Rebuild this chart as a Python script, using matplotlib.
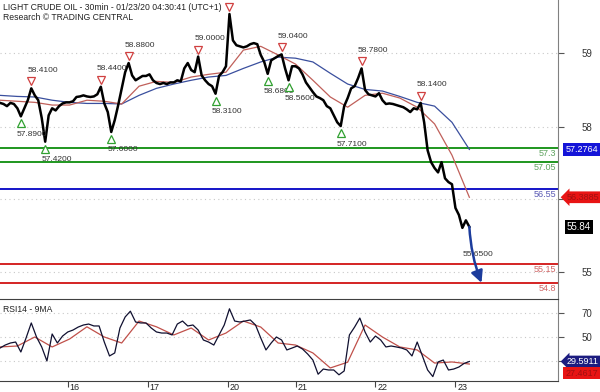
import numpy as np
import matplotlib
matplotlib.use("Agg")
import matplotlib.pyplot as plt
from matplotlib.transforms import offset_copy, blended_transform_factory

# closes, one value every 2 bars (30min bars)
price_step = 2
price_close = [
    # 15th
    58.14, 58.12, 58.08, 58.14, 58.12, 58.04, 57.89, 58.04, 58.19, 58.41,
    58.28, 58.19, 57.86, 57.42, 57.91, 58.04, 58.00, 58.08, 58.13, 58.15,
    # 16th
    58.15, 58.17, 58.25, 58.26, 58.28, 58.26, 58.25, 58.26, 58.30, 58.44,
    58.13, 57.97, 57.60, 57.82, 58.10, 58.41, 58.71, 58.88, 58.65, 58.56,
    58.60, 58.64, 58.64,
    # 17th
    58.67, 58.56, 58.51, 58.49, 58.51, 58.49, 58.52, 58.52, 58.56, 58.54,
    58.78, 58.88, 58.75, 58.71, 59.00, 58.65, 58.56, 58.49, 58.45, 58.31,
    58.64, 58.71, 58.82,
    # 20th
    59.79, 59.30, 59.21, 59.19, 59.17, 59.19, 59.23, 59.25, 59.23, 59.03,
    58.90, 58.68, 58.93, 58.97, 59.01, 59.04, 58.78, 58.56, 58.82,
    # 21st
    58.82, 58.78, 58.67, 58.52, 58.43, 58.34, 58.26, 58.23, 58.19, 58.08,
    58.04, 57.91, 57.78, 57.71, 58.08, 58.23, 58.41, 58.45, 58.60, 58.78,
    58.38, 58.30, 58.28,
    # 22nd
    58.26, 58.32, 58.19, 58.12, 58.13, 58.12, 58.10, 58.08, 58.06, 58.02,
    57.97, 58.04, 58.02, 58.14, 57.78, 57.26, 57.04, 56.93, 56.85, 57.04,
    56.74, 56.67, 56.63,
    # 23rd
    56.19, 56.06, 55.82, 55.96, 55.84,
]

# moving averages, one value every 10 bars
ma_step = 10
ma_fast = [58.19, 58.17, 58.15, 58.10, 58.10, 58.19, 58.17, 58.12, 58.45, 58.54,
           58.52, 58.62, 58.67, 58.71, 59.12, 59.19, 59.03, 58.86, 58.56, 58.25,
           58.06, 58.28, 58.32, 58.23, 58.06, 57.75, 57.17, 56.3885]
ma_slow = [58.28, 58.26, 58.25, 58.19, 58.15, 58.13, 58.13, 58.12, 58.28, 58.41,
           58.49, 58.56, 58.62, 58.65, 58.78, 58.90, 58.99, 58.97, 58.90, 58.69,
           58.49, 58.39, 58.36, 58.26, 58.15, 58.08, 57.78, 57.2764]

# RSI14, one value every 3 bars
rsi_step = 3
rsi_values = [
    40.8, 43.3, 45.0, 45.8, 37.5, 49.2, 61.7, 50.0, 41.7, 30.0,
    52.5, 45.0, 50.8, 54.2, 55.8, 58.3, 60.0, 60.8, 59.2, 59.2,
    45.8, 34.2, 36.7, 57.5, 66.7, 71.5, 62.5, 61.7, 61.7, 57.5,
    54.2, 53.3, 53.3, 51.7, 60.8, 63.3, 59.2, 60.0, 55.8, 47.5,
    45.8, 43.3, 51.7, 60.0, 73.5, 63.3, 62.5, 63.3, 64.2, 60.0,
    49.2, 39.2, 45.0, 50.0, 47.5, 39.2, 40.8, 42.5, 40.0, 35.8,
    30.8, 19.0, 23.3, 22.5, 22.5, 18.5, 21.7, 51.7, 58.3, 65.8,
    54.2, 45.8, 50.8, 47.5, 41.7, 42.5, 41.7, 40.8, 39.2, 34.2,
    45.8, 34.2, 22.5, 17.0, 29.2, 30.8, 22.5, 23.3, 25.0, 28.0,
    29.5911,
]
# 9MA of RSI, one value every 10 bars
rsi_ma = [41.7, 42.5, 50.0, 41.7, 48.3, 58.5, 50.0, 45.0, 63.3, 58.5,
          51.7, 57.5, 47.5, 53.3, 63.3, 58.3, 45.0, 43.3, 36.7, 24.2,
          29.0, 60.0, 50.0, 41.7, 39.2, 28.3, 29.2, 27.4617]

day_ticks = [39, 85, 131, 170, 216, 262]
day_labels = ["16", "17", "20", "21", "22", "23"]

peak_bars = [18, 58, 74, 114, 132, 162, 208, 242]
peak_prices = [58.41, 58.44, 58.88, 59.00, 59.79, 59.04, 58.78, 58.14]
peak_labels = ["58.4100", "58.4400", "58.8800", "59.0000", "", "59.0400", "58.7800", "58.1400"]
trough_bars = [12, 26, 64, 124, 154, 166, 196]
trough_prices = [57.89, 57.42, 57.60, 58.31, 58.68, 58.56, 57.71]
trough_labels = ["57.8900", "57.4200", "57.6000", "58.3100", "58.6800", "58.5600", "57.7100"]

level_prices = [57.3, 57.05, 56.55, 55.15, 54.8]
level_names = ["57.3", "57.05", "56.55", "55.15", "54.8"]
level_colors = ["#1e961e", "#1e961e", "#1414c8", "#d42424", "#d42424"]
level_text_colors = ["#5fa35f", "#5fa35f", "#5a5ab4", "#d06666", "#d06666"]

# price grid is evenly spaced in pixels, labels are rounded
price_grid = [59.06, 57.69, 56.35, 55.0]
price_grid_labels = ["59", "58", "", "55"]
rsi_grid = [70, 50, 30]
rsi_grid_labels = ["70", "50", ""]

target_bar = 277
target_price = 54.8
target_text = "55.6500"

plt.rcParams["font.family"] = ["Liberation Sans", "DejaVu Sans"]

W, H = 600, 392
fig = plt.figure(figsize=(W / 100, H / 100), dpi=100)
ax = fig.add_axes([0, 93 / H, 558 / W, 299 / H])
ax_rsi = fig.add_axes([0, 11 / H, 558 / W, 82 / H], sharex=ax)

grid_kw = dict(color="#c8c8c8", linestyle=(0, (1, 3)), linewidth=0.8, zorder=0)

# ---- main price panel ----
px = np.arange(len(price_close)) * price_step
mx = np.arange(len(ma_fast)) * ma_step
ax.set_xlim(0, 321)
ax.set_ylim(54.50, 60.05)
for g in price_grid:
    ax.axhline(g, **grid_kw)

ax.plot(mx, ma_slow, color="#3a4f9e", lw=0.9, zorder=3)
ax.plot(mx, ma_fast, color="#c0605a", lw=0.9, zorder=3)
ax.plot(px, price_close, color="black", lw=1.8, zorder=4)

ylab = blended_transform_factory(ax.transAxes, ax.transData)
for lvl, name, c, tc in zip(level_prices, level_names, level_colors, level_text_colors):
    ax.axhline(lvl, color=c, lw=1.4, zorder=2)
    ax.text(0.997, lvl, name, transform=offset_copy(ylab, fig=fig, y=-1, units="dots"),
            ha="right", va="top", fontsize=6.5, color=tc, zorder=5)

# swing high / low markers
for b, p, lab in zip(peak_bars, peak_prices, peak_labels):
    ax.plot(b, p, marker="v", ms=6, mfc="white", mec="#d04040", mew=0.9,
            transform=offset_copy(ax.transData, fig=fig, y=7, units="dots"), zorder=6)
    if lab:
        ax.text(b, p, lab, transform=offset_copy(ax.transData, fig=fig, x=-4, y=18, units="dots"),
                ha="left", va="center", fontsize=6, color="#333333", zorder=6)
for b, p, lab in zip(trough_bars, trough_prices, trough_labels):
    ax.plot(b, p, marker="^", ms=6, mfc="white", mec="#30a030", mew=0.9,
            transform=offset_copy(ax.transData, fig=fig, y=-7, units="dots"), zorder=6)
    ax.text(b, p, lab, transform=offset_copy(ax.transData, fig=fig, x=-4, y=-18, units="dots"),
            ha="left", va="center", fontsize=6, color="#333333", zorder=6)

# projection arrow
ax.annotate("", xy=(target_bar, target_price), xytext=(px[-1], price_close[-1]),
            arrowprops=dict(arrowstyle="-|>,head_length=0.7,head_width=0.35", color="#1c3c9c",
                            lw=1.8, connectionstyle="arc3,rad=0.08", shrinkA=0, shrinkB=0),
            zorder=7)
ax.text(px[-1] - 4, 55.33, target_text, fontsize=6, color="#333333", ha="left", va="center")

ax.set_yticks(price_grid)
ax.set_yticklabels(price_grid_labels)
ax.yaxis.tick_right()
ax.tick_params(axis="y", direction="out", length=4, pad=13, labelsize=7, colors="#555555",
               labelcolor="#333333")
ax.tick_params(axis="x", bottom=False, labelbottom=False)
for s in ["top", "left", "bottom"]:
    ax.spines[s].set_visible(False)
ax.spines["right"].set_color("#808080")

# value boxes on the price axis
box_fs = 6.5
ax.text(1.013, ma_slow[-1], "57.2764", transform=ylab, ha="left", va="center", fontsize=box_fs,
        color="white", bbox=dict(boxstyle="square,pad=0.2", fc="#1414d8", ec="none"), clip_on=False)
ax.text(1.016, ma_fast[-1], "56.3885", transform=ylab, ha="left", va="center", fontsize=box_fs,
        color="#a01010", bbox=dict(boxstyle="larrow,pad=0.15", fc="#e81414", ec="none"), clip_on=False)
ax.text(1.016, price_close[-1], "55.84", transform=ylab, ha="left", va="center", fontsize=box_fs + 0.5,
        color="white", bbox=dict(boxstyle="square,pad=0.22", fc="black", ec="none"), clip_on=False)

fig.text(3 / W, 1 - 7 / H, "LIGHT CRUDE OIL - 30min - 01/23/20 04:30:41 (UTC+1)",
         fontsize=6.2, color="#222222", va="center", ha="left")
fig.text(3 / W, 1 - 17 / H, "Research \u00a9 TRADING CENTRAL",
         fontsize=6.2, color="#222222", va="center", ha="left")

# ---- RSI panel ----
rx = np.arange(len(rsi_values)) * rsi_step
ax_rsi.set_ylim(13.33, 81.67)
for g in rsi_grid:
    ax_rsi.axhline(g, **grid_kw)
ax_rsi.plot(mx, rsi_ma, color="#c0504a", lw=0.9, zorder=3)
ax_rsi.plot(rx, rsi_values, color="#101030", lw=0.9, zorder=4)
ax_rsi.text(3 / 558, 0.93, "RSI14 - 9MA", transform=ax_rsi.transAxes, fontsize=6.2,
            color="#222222", ha="left", va="top")

ax_rsi.set_yticks(rsi_grid)
ax_rsi.set_yticklabels(rsi_grid_labels)
ax_rsi.yaxis.tick_right()
ax_rsi.tick_params(axis="y", direction="out", length=4, pad=13, labelsize=7, colors="#555555",
                   labelcolor="#333333")
ax_rsi.set_xticks(day_ticks)
ax_rsi.set_xticklabels([""] * len(day_ticks))
ax_rsi.tick_params(axis="x", direction="out", length=4, colors="#444444")
xlab = blended_transform_factory(ax_rsi.transData, ax_rsi.transAxes)
for t, lab in zip(day_ticks, day_labels):
    ax_rsi.text(t, 0, lab, transform=offset_copy(xlab, fig=fig, x=2, y=-2, units="dots"),
                ha="left", va="top", fontsize=6.5, color="#222222")
ax_rsi.spines["left"].set_visible(False)
ax_rsi.spines["top"].set_color("#404040")
ax_rsi.spines["bottom"].set_color("#404040")
ax_rsi.spines["right"].set_color("#808080")

rlab = blended_transform_factory(ax_rsi.transAxes, ax_rsi.transData)
ax_rsi.text(1.016, rsi_values[-1], "29.5911", transform=rlab, ha="left", va="center", fontsize=box_fs,
            color="white", bbox=dict(boxstyle="larrow,pad=0.15", fc="#1c1c80", ec="none"), clip_on=False)
ax_rsi.text(1.013, rsi_ma[-1], "27.4617",
            transform=offset_copy(rlab, fig=fig, y=-9, units="dots"), ha="left", va="center",
            fontsize=box_fs, color="#a01010",
            bbox=dict(boxstyle="square,pad=0.2", fc="#e81414", ec="none"), clip_on=False)

fig.savefig("out.png", dpi=100)
